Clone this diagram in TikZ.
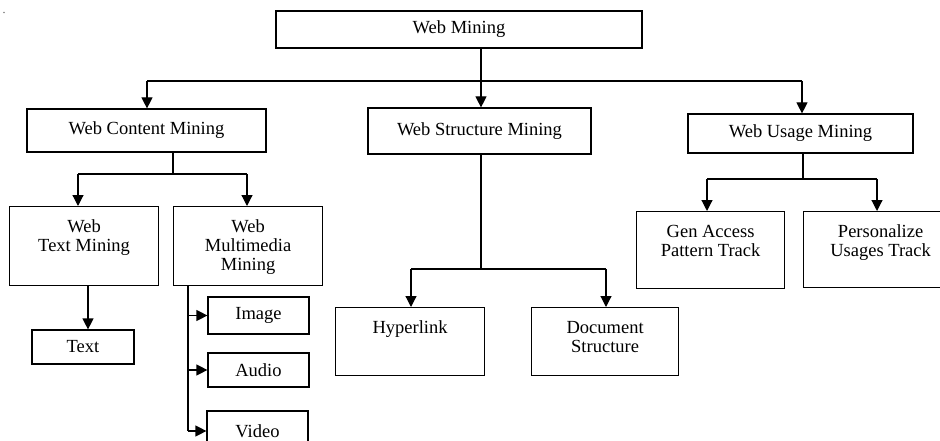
\documentclass[tikz,border=0pt]{standalone}
\usepackage{fontspec}
\setmainfont{Liberation Serif}
\usetikzlibrary{arrows.meta}
\newcommand{\topbox}[3]{\parbox[t][#2][t]{#1}{\centering\rule{0pt}{25.5pt}#3}}
\begin{document}
\begin{tikzpicture}[x=1pt,y=-1pt,
  font=\fontsize{18.5}{19}\selectfont,
  box/.style={draw, line width=1.2pt, inner sep=0pt, rectangle},
  ln/.style={line width=1.2pt},
  arr/.style={line width=1.2pt, -{Triangle[length=11pt,width=11pt]}}]
\useasboundingbox (0,0) rectangle (940,441);
\clip (0,0) rectangle (940,441);

% centred boxes
\node[box, minimum width=366pt, minimum height=37pt] (wm)  at (459,29.5)  {Web Mining};
\node[box, minimum width=239pt, minimum height=43pt] (wcm) at (146.5,130.5) {Web Content Mining};
\node[box, minimum width=223pt, minimum height=46pt] (wsm) at (479.5,131) {Web Structure Mining};
\node[box, minimum width=225pt, minimum height=39pt] (wum) at (800.5,133.5) {Web Usage Mining};
\node[box, minimum width=102pt, minimum height=34pt] (txt) at (83,347) {Text};
\node[box, minimum width=101pt, minimum height=37pt] (img) at (258.5,315.5) {Image};
\node[box, minimum width=101pt, minimum height=34pt] (aud) at (258.5,370) {Audio};
\node[box, minimum width=101pt, minimum height=40pt] (vid) at (257.5,431) {Video};

% top-aligned boxes
\node[box, anchor=north west] (wtm) at (9,206)   {\topbox{149pt}{79pt}{Web\\Text Mining}};
\node[box, anchor=north west] (wmm) at (173,206) {\topbox{149pt}{79pt}{Web\\Multimedia\\Mining}};
\node[box, anchor=north west] (hyp) at (335,307) {\topbox{149pt}{68pt}{Hyperlink}};
\node[box, anchor=north west] (doc) at (531,307) {\topbox{147pt}{68pt}{Document\\Structure}};
\node[box, anchor=north west] (gen) at (636,211) {\topbox{148pt}{77pt}{Gen Access\\Pattern Track}};
\node[box, anchor=north west] (per) at (803,211) {\topbox{154pt}{76pt}{Personalize\\Usages Track}};

% junction coordinates
\coordinate (j0) at (481,81);  \coordinate (bL) at (147,81);  \coordinate (bR) at (802,81);
\coordinate (c0) at (173,174); \coordinate (cL) at (78,174);  \coordinate (cR) at (247,174);
\coordinate (t0) at (88,288);
\coordinate (m0) at (188,431);
\coordinate (s0) at (481,269); \coordinate (sL) at (411,269); \coordinate (sR) at (606,269);
\coordinate (u0) at (803,179); \coordinate (uL) at (707,179); \coordinate (uR) at (877,179);

% level 1
\draw[ln] (j0 |- wm.south) -- (j0);
\draw[ln] (bL) -- (bR);
\draw[arr] (bL) -- (bL |- wcm.north);
\draw[arr] (j0) -- (j0 |- wsm.north);
\draw[arr] (bR) -- (bR |- wum.north);

% content mining
\draw[ln] (c0 |- wcm.south) -- (c0);
\draw[ln] (cL) -- (cR);
\draw[arr] (cL) -- (cL |- wtm.north);
\draw[arr] (cR) -- (cR |- wmm.north);
\draw[arr] (t0 |- wtm.south) -- (t0 |- txt.north);
\draw[ln] (m0 |- wmm.south) -- (m0);
\draw[arr] (m0 |- img.west) -- (img.west);
\draw[arr] (m0 |- aud.west) -- (aud.west);
\draw[arr] (m0) -- (vid.west);

% structure mining
\draw[ln] (s0 |- wsm.south) -- (s0);
\draw[ln] (sL) -- (sR);
\draw[arr] (sL) -- (sL |- hyp.north);
\draw[arr] (sR) -- (sR |- doc.north);

% usage mining
\draw[ln] (u0 |- wum.south) -- (u0);
\draw[ln] (uL) -- (uR);
\draw[arr] (uL) -- (uL |- gen.north);
\draw[arr] (uR) -- (uR |- per.north);

% stray dot
\fill[gray] (4,12.5) circle (0.8pt);
\end{tikzpicture}
\end{document}
